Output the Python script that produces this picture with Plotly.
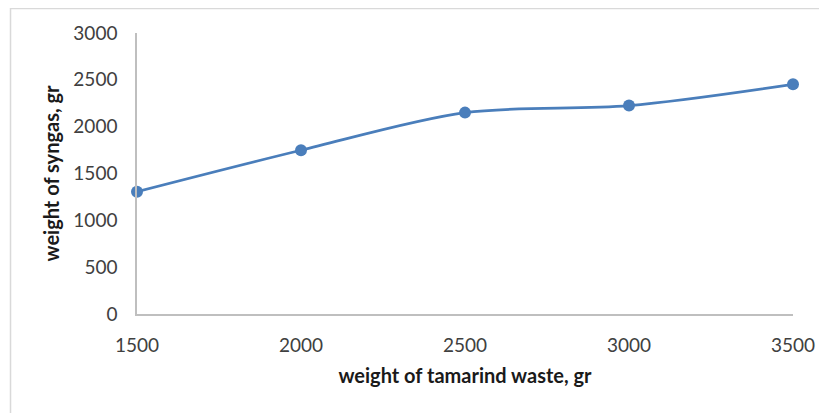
import plotly.graph_objects as go

tamarind_waste = [1500, 2000, 2500, 3000, 3500]
syngas_weight = [1306, 1748, 2150, 2225, 2452]
x_ticks = [1500, 2000, 2500, 3000, 3500]
y_ticks = [0, 500, 1000, 1500, 2000, 2500, 3000]

fig = go.Figure()
fig.add_trace(go.Scatter(
    x=tamarind_waste, y=syngas_weight, mode="lines+markers",
    line=dict(color="#4A7EBB", width=2.75, shape="spline", smoothing=0.9),
    marker=dict(color="#4A7EBB", size=12),
    cliponaxis=False, showlegend=False,
))

fig.update_layout(
    width=819, height=405,
    margin=dict(l=129, r=26, t=25, b=99),
    paper_bgcolor="white", plot_bgcolor="white",
    font=dict(family="Lato", size=19, color="#404040"),
    shapes=[dict(type="rect", xref="paper", yref="paper",
                 x0=-0.1928, x1=1.2, y0=-0.6, y1=1.087,
                 line=dict(color="#D9D9D9", width=1.5), layer="below")],
)
fig.update_xaxes(
    range=[1500, 3500], tickvals=x_ticks, showgrid=False, zeroline=False,
    showline=True, linecolor="#BFBFBF", linewidth=1.5, ticks="",
    ticklabelstandoff=13,
    title=dict(text="<b>weight of tamarind waste, gr</b>", standoff=14,
               font=dict(family="Lato", size=20, color="#1a1a1a")),
)
fig.update_yaxes(
    range=[0, 3000], tickvals=y_ticks, showgrid=False, zeroline=False,
    showline=True, linecolor="#BFBFBF", linewidth=1.5, ticks="",
    ticklabelstandoff=14,
    title=dict(text="<b>weight of syngas, gr</b>", standoff=8,
               font=dict(family="Lato", size=20, color="#1a1a1a")),
)

fig.write_html("out.html")
